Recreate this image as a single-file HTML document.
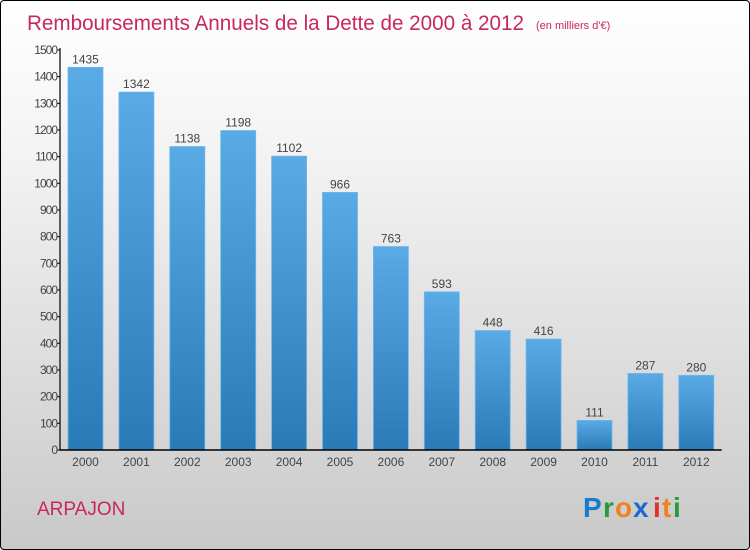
<!DOCTYPE html>
<html><head><meta charset="utf-8"><style>
body{margin:0;}
#wrap{width:748px;height:548px;border:1px solid #000;border-radius:4px;background:linear-gradient(#fff,#f2f2f2 30%,#c9c9c9);position:relative;overflow:hidden;font-family:"Liberation Sans",sans-serif;}
</style></head><body>
<div id="wrap">
<svg id="chart" width="748" height="548">
<defs><linearGradient id="bg" x1="0" y1="0" x2="0" y2="1"><stop offset="0" stop-color="#5aaae6"/><stop offset="1" stop-color="#2a7ab8"/></linearGradient></defs>
<text x="26" y="29" font-size="21" fill="#c8285a" textLength="497" lengthAdjust="spacingAndGlyphs">Remboursements Annuels de la Dette de 2000 à 2012</text>
<text x="535" y="28" font-size="11" fill="#c8285a">(en milliers d'€)</text>
<text x="36" y="514" font-size="19" fill="#c8285a">ARPAJON</text>
<g font-size="28" font-weight="bold" font-family="Liberation Sans,sans-serif">
<text x="582" y="516" fill="#1a7ad0">P</text><text x="602" y="516" fill="#2a9a3a">r</text><text x="614" y="516" fill="#f08020">o</text><text x="632" y="516" fill="#1a6ad0">x</text><text x="652" y="516" fill="#e03030">i</text><text x="661" y="516" fill="#f08020">t</text><text x="672" y="516" fill="#2a9a3a">i</text>
</g>
<g id="plot"></g>
</svg></div>
<script>
const categories=["2000","2001","2002","2003","2004","2005","2006","2007","2008","2009","2010","2011","2012"];
const values=[1435,1342,1138,1198,1102,966,763,593,448,416,111,287,280];
const ticks=[0,100,200,300,400,500,600,700,800,900,1000,1100,1200,1300,1400,1500];
const x0=59,y0=449,yTop=49,cw=50.9,maxV=1500;
const y=v=>y0-(v/maxV)*(y0-yTop);
const xs=i=>x0+i*cw;
const g=document.getElementById('plot');const NS='http://www.w3.org/2000/svg';
function el(t,a){const e=document.createElementNS(NS,t);for(const k in a)e.setAttribute(k,a[k]);g.appendChild(e);return e;}
values.forEach((v,i)=>{
const r=el('rect',{x:xs(i)+8,y:y(v),width:35,height:y0-y(v),fill:'url(#bg)',stroke:'#6cb8ee','stroke-width':0.8});


const t=el('text',{x:xs(i)+25.5,y:y(v)-4,'font-size':12,fill:'#444','text-anchor':'middle'});t.textContent=v;


const c=el('text',{x:xs(i)+25.5,y:y0+16,'font-size':12,fill:'#444','text-anchor':'middle'});c.textContent=categories[i];


});
ticks.forEach(tv=>{
el('line',{x1:x0-3,x2:x0,y1:y(tv),y2:y(tv),stroke:'#000'});
const t=el('text',{x:x0-3,y:y(tv)+4,'font-size':12,fill:'#444','text-anchor':'end','letter-spacing':'-1'});t.textContent=tv;


});
const ya=el('line',{x1:x0,x2:x0,y1:yTop-2,y2:y0,stroke:'#000','stroke-width':1.2});


const xa=el('line',{x1:x0,x2:x0+13*cw,y1:y0,y2:y0,stroke:'#000','stroke-width':1.5});


</script>
</body></html>
